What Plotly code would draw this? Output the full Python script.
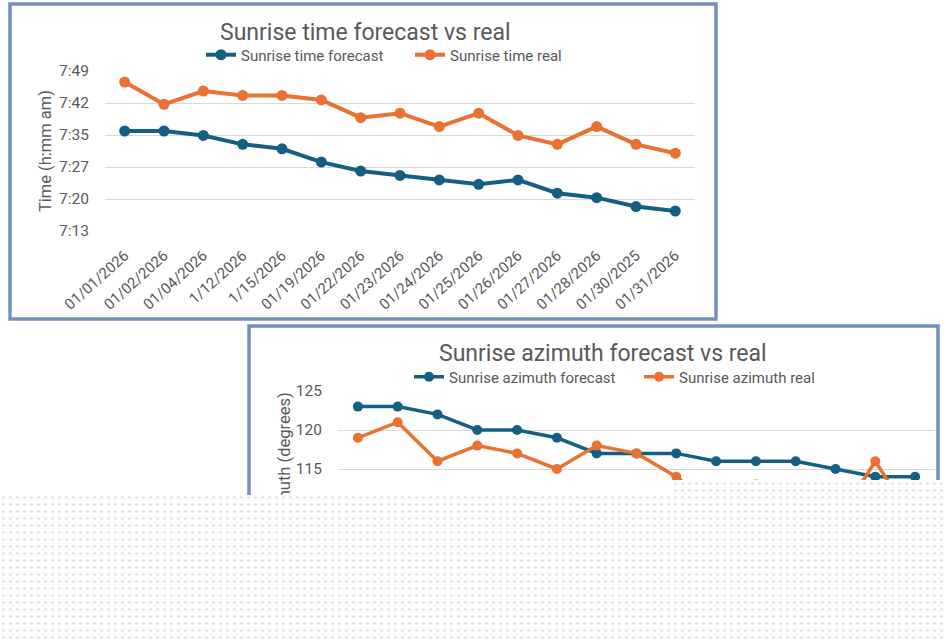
import plotly.graph_objects as go

# dates on the category axis (same for both charts)
dates = ["01/01/2026", "01/02/2026", "01/04/2026", "1/12/2026", "1/15/2026",
         "01/19/2026", "01/22/2026", "01/23/2026", "01/24/2026", "01/25/2026",
         "01/26/2026", "01/27/2026", "01/28/2026", "01/30/2025", "01/31/2026"]

# sunrise times (h:mm am)
time_forecast = ["7:36", "7:36", "7:35", "7:33", "7:32", "7:29", "7:27", "7:26",
                 "7:25", "7:24", "7:25", "7:22", "7:21", "7:19", "7:18"]
time_real = ["7:47", "7:42", "7:45", "7:44", "7:44", "7:43", "7:39", "7:40",
             "7:37", "7:40", "7:35", "7:33", "7:37", "7:33", "7:31"]

# time axis labels, excel steps them by 0.005 day (7.2 min) from 7:13.5
time_ticks = ["7:13", "7:20", "7:27", "7:35", "7:42", "7:49"]
time_tick_start = 7 * 60 + 13.5
time_tick_step = 7.2

# sunrise azimuth (degrees); the tail of the real series is hidden in the picture
azimuth_forecast = [123, 123, 122, 120, 120, 119, 117, 117, 117, 116, 116, 116, 115, 114, 114]
azimuth_real = [119, 121, 116, 118, 117, 115, 118, 117, 114, 110, 113, 110, 108, 116, 108]
azimuth_ticks = [100, 105, 110, 115, 120, 125]

W, H = 944, 642
BLUE = "#156082"
ORANGE = "#E97132"
GREY = "#595959"
GRID = "#d9d9d9"
FRAME = "#7391bb"
FONT = "Roboto"


def px(x):
    return x / W


def py(y):
    return 1 - y / H


def to_minutes(t):
    h, m = t.split(":")
    return int(h) * 60 + int(m)


time_vals = [time_tick_start + time_tick_step * i for i in range(len(time_ticks))]
cat_range = [-0.5, len(dates) - 0.5]

fig = go.Figure()

# chart 1: sunrise time
fig.add_trace(go.Scatter(x=dates, y=[to_minutes(t) for t in time_forecast],
                         mode="lines+markers", name="Sunrise time forecast",
                         line=dict(color=BLUE, width=4), marker=dict(size=11, color=BLUE),
                         xaxis="x", yaxis="y", legend="legend"))
fig.add_trace(go.Scatter(x=dates, y=[to_minutes(t) for t in time_real],
                         mode="lines+markers", name="Sunrise time real",
                         line=dict(color=ORANGE, width=4), marker=dict(size=11, color=ORANGE),
                         xaxis="x", yaxis="y", legend="legend"))

# chart 2: sunrise azimuth
fig.add_trace(go.Scatter(x=dates, y=azimuth_forecast,
                         mode="lines+markers", name="Sunrise azimuth forecast",
                         line=dict(color=BLUE, width=3.5), marker=dict(size=10, color=BLUE),
                         xaxis="x2", yaxis="y2", legend="legend2"))
fig.add_trace(go.Scatter(x=dates, y=azimuth_real,
                         mode="lines+markers", name="Sunrise azimuth real",
                         line=dict(color=ORANGE, width=3.5), marker=dict(size=10, color=ORANGE),
                         xaxis="x2", yaxis="y2", legend="legend2"))

# dotted white sheet lying over the lower part of the screenshot
fig.add_trace(go.Bar(x=[336, 808], y=[147, 162], width=[672, 272],
                     marker=dict(color="white", line_width=0,
                                 pattern=dict(shape=".", fillmode="overlay", fgcolor="#bdbdbd",
                                              bgcolor="white", size=7, solidity=0.12)),
                     xaxis="x3", yaxis="y3", showlegend=False, hoverinfo="skip"))

tick_font = dict(family=FONT, size=15.5, color=GREY)
date_font = dict(family=FONT, size=15, color=GREY)
axis_common = dict(showline=False, zeroline=False, ticks="", fixedrange=True, automargin=False)
legend_font = dict(family=FONT, size=15, color=GREY)

fig.update_layout(
    width=W, height=H,
    margin=dict(l=0, r=0, t=0, b=0, pad=0),
    paper_bgcolor="white",
    plot_bgcolor="rgba(0,0,0,0)",
    font=dict(family=FONT, color=GREY),
    xaxis=dict(domain=[px(105), px(695)], anchor="y", type="category", range=cat_range,
               tickangle=-42, tickfont=date_font, showgrid=False,
               ticklabelstandoff=12, **axis_common),
    yaxis=dict(domain=[py(231), py(71)], anchor="x",
               range=[time_vals[0], time_vals[-1]],
               tickvals=time_vals, ticktext=time_ticks, tickfont=tick_font,
               gridcolor=GRID, gridwidth=1.3, ticklabelstandoff=15,
               **axis_common),
    # the date labels of the second chart sit under the dotted sheet
    xaxis2=dict(domain=[px(338), px(935)], anchor="y2", type="category", range=cat_range,
                showticklabels=False, showgrid=False, **axis_common),
    yaxis2=dict(domain=[py(586), py(391)], anchor="x2",
                range=[azimuth_ticks[0], azimuth_ticks[-1]],
                tickvals=azimuth_ticks, tickfont=tick_font,
                gridcolor=GRID, gridwidth=1.3, ticklabelstandoff=15,
                **axis_common),
    xaxis3=dict(domain=[0, 1], anchor="y3", range=[0, W], visible=False, fixedrange=True,
                automargin=False),
    yaxis3=dict(domain=[0, py(480)], anchor="x3", range=[0, H - 480], visible=False,
                fixedrange=True, automargin=False),
    legend=dict(orientation="h", x=px(201), y=py(55), xanchor="left", yanchor="middle",
                font=legend_font, bgcolor="rgba(0,0,0,0)",
                entrywidth=164, entrywidthmode="pixels"),
    legend2=dict(orientation="h", x=px(409), y=py(377), xanchor="left", yanchor="middle",
                 font=legend_font, bgcolor="rgba(0,0,0,0)",
                 entrywidth=185, entrywidthmode="pixels"),
    showlegend=True,
)

# chart titles
fig.add_annotation(x=px(365), y=py(33), xref="paper", yref="paper", showarrow=False,
                   xanchor="center", yanchor="middle",
                   text="Sunrise time forecast vs real",
                   font=dict(family=FONT, size=23, color=GREY))
fig.add_annotation(x=px(603), y=py(353), xref="paper", yref="paper", showarrow=False,
                   xanchor="center", yanchor="middle",
                   text="Sunrise azimuth forecast vs real",
                   font=dict(family=FONT, size=23, color=GREY))

# chart frames, kept below the dotted sheet
fig.add_shape(type="rect", xref="paper", yref="paper", layer="below",
              x0=px(10), x1=px(716), y0=py(319), y1=py(4),
              line=dict(color=FRAME, width=3.5), fillcolor="rgba(0,0,0,0)")
fig.add_shape(type="rect", xref="paper", yref="paper", layer="below",
              x0=px(249), x1=px(938), y0=py(680), y1=py(326),
              line=dict(color=FRAME, width=3.5), fillcolor="rgba(0,0,0,0)")

# y axis titles as shape labels, so the dotted sheet can hide the lower half of the second
title_font = dict(family=FONT, size=16.5, color=GREY)
fig.add_shape(type="rect", xref="paper", yref="paper", layer="below",
              x0=px(34), x1=px(54), y0=py(231), y1=py(71),
              line=dict(width=0), fillcolor="rgba(0,0,0,0)",
              label=dict(text="Time (h:mm am)", textangle=-90,
                         textposition="middle center", font=title_font))
fig.add_shape(type="rect", xref="paper", yref="paper", layer="below",
              x0=px(273), x1=px(293), y0=py(586), y1=py(391),
              line=dict(width=0), fillcolor="rgba(0,0,0,0)",
              label=dict(text="Sunrise azimuth (degrees)", textangle=-90,
                         textposition="middle center", font=title_font))

fig.write_html("out.html", config={"displayModeBar": False},
               post_script="document.body.style.margin = '0';")
